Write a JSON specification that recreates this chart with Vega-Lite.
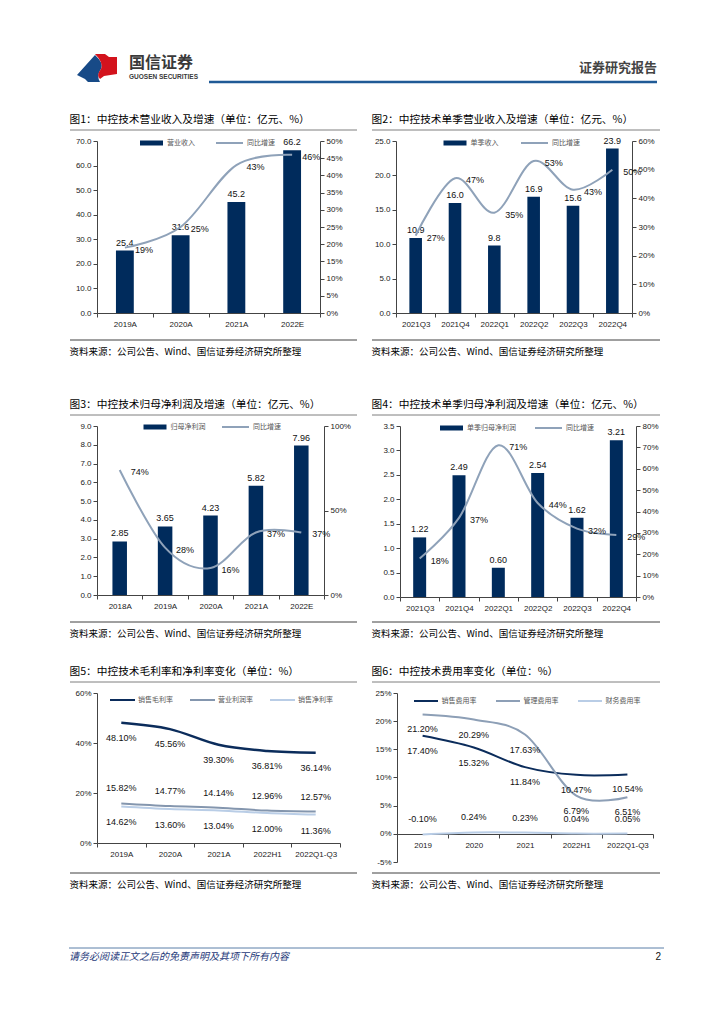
{
"$schema": "https://vega.github.io/schema/vega-lite/v6.json",
"background": "white",
"padding": {"left": 68, "top": 40, "right": 0, "bottom": 0},
"spacing": 0,
"resolve": {"scale": {"fill": "independent", "stroke": "independent"}, "legend": {"fill": "independent", "stroke": "independent"}},
"datasets": {
"one": [{}],
"none": [],
"c1": [{"p":"2019A","v":25.4,"g":0.19},{"p":"2020A","v":31.6,"g":0.25},{"p":"2021A","v":45.2,"g":0.43},{"p":"2022E","v":66.2,"g":0.46}],
"c2": [{"p":"2021Q3","v":10.9,"g":0.27},{"p":"2021Q4","v":16.0,"g":0.47},{"p":"2022Q1","v":9.8,"g":0.35},{"p":"2022Q2","v":16.9,"g":0.53},{"p":"2022Q3","v":15.6,"g":0.43},{"p":"2022Q4","v":23.9,"g":0.50}],
"c3": [{"p":"2018A","v":2.85,"g":0.74},{"p":"2019A","v":3.65,"g":0.28},{"p":"2020A","v":4.23,"g":0.16},{"p":"2021A","v":5.82,"g":0.37},{"p":"2022E","v":7.96,"g":0.37}],
"c4": [{"p":"2021Q3","v":1.22,"g":0.18},{"p":"2021Q4","v":2.49,"g":0.37},{"p":"2022Q1","v":0.60,"g":0.71},{"p":"2022Q2","v":2.54,"g":0.44},{"p":"2022Q3","v":1.62,"g":0.32},{"p":"2022Q4","v":3.21,"g":0.29}],
"c5": [{"p":"2019A","gm":0.4810,"om":0.1582,"nm":0.1462},{"p":"2020A","gm":0.4556,"om":0.1477,"nm":0.1360},{"p":"2021A","gm":0.3930,"om":0.1414,"nm":0.1304},{"p":"2022H1","gm":0.3681,"om":0.1296,"nm":0.1200},{"p":"2022Q1-Q3","gm":0.3614,"om":0.1257,"nm":0.1136}],
"c6": [{"p":"2019","se":0.1740,"me":0.2120,"fe":-0.0010},{"p":"2020","se":0.1532,"me":0.2029,"fe":0.0024},{"p":"2021","se":0.1184,"me":0.1763,"fe":0.0023},{"p":"2022H1","se":0.1047,"me":0.0679,"fe":0.0004},{"p":"2022Q1-Q3","se":0.1054,"me":0.0651,"fe":0.0005}]
},
"config": {
"view": {"stroke": null},
"font": "Liberation Sans",
"axis": {"labelFont": "Liberation Sans", "labelFontSize": 8, "labelColor": "#222", "domainColor": "#444", "tickColor": "#444", "tickSize": 4, "labelPadding": 2, "grid": false, "labelOverlap": false, "labelSeparation": -40},
"legend": {"labelFont": "Noto Sans CJK SC", "labelFontSize": 7, "labelColor": "#555", "padding": 0, "symbolOpacity": 1},
"text": {"font": "Liberation Sans", "fontSize": 9, "fill": "#111"},
"locale": {"number": {"decimal": ".", "thousands": ",", "grouping": [3], "currency": ["", ""], "minus": "-"}}
},
"vconcat": [
{
"width": 567, "height": 73,
"data": {"name": "one"},
"layer": [
{"mark": {"type": "point", "shape": "M-1,0.35L-0.1,-0.65Q0.35,-0.25 0.2,0.05Q-0.05,0.35 0.15,0.7L-0.45,0.7L-0.6,0.55Z", "filled": true, "size": 1600, "color": "#174a87", "opacity": 1, "strokeWidth": 0},
 "encoding": {"x": {"datum": 0, "type": "quantitative", "scale": {"domain": [0, 567], "nice": false}, "axis": null}, "y": {"datum": 28, "type": "quantitative", "scale": {"domain": [0, 73], "nice": false, "reverse": true}, "axis": null}}},
{"mark": {"type": "point", "shape": "M-0.1,-0.7L0.4,-0.7L0.6,-0.55L1,-0.55L1,0.3L0.35,0.4L0.15,0.55Q-0.05,0.35 0.2,0.05Q0.35,-0.25 -0.1,-0.7Z", "filled": true, "size": 1600, "color": "#d3131d", "opacity": 1, "strokeWidth": 0},
 "encoding": {"x": {"datum": 0, "type": "quantitative"}, "y": {"datum": 28, "type": "quantitative"}}},
{"mark": {"type": "text", "text": "国信证券", "font": "Noto Sans CJK SC", "fontSize": 16, "fontWeight": "bold", "fill": "#3a3a3a", "align": "left", "baseline": "middle"},
 "encoding": {"x": {"datum": 32, "type": "quantitative"}, "y": {"datum": 23, "type": "quantitative"}}},
{"mark": {"type": "text", "text": "GUOSEN SECURITIES", "font": "Liberation Sans", "fontSize": 6.5, "fontWeight": "bold", "fill": "#3a3a3a", "align": "left", "baseline": "middle"},
 "encoding": {"x": {"datum": 32, "type": "quantitative"}, "y": {"datum": 37, "type": "quantitative"}}},
{"mark": {"type": "rule", "color": "#1f5a96", "strokeWidth": 2.5},
 "encoding": {"x": {"datum": 112, "type": "quantitative"}, "x2": {"datum": 560}, "y": {"datum": 42, "type": "quantitative"}}},
{"mark": {"type": "text", "text": "证券研究报告", "font": "Noto Sans CJK SC", "fontSize": 13, "fontWeight": "bold", "fill": "#444", "align": "right", "baseline": "middle"},
 "encoding": {"x": {"datum": 560, "type": "quantitative"}, "y": {"datum": 28, "type": "quantitative"}}}
]
},
{"hconcat": [
{"width": 260, "height": 6, "title": {"text": "图1：中控技术营业收入及增速（单位：亿元、%）", "anchor": "start", "offset": 4, "fontSize": 10.7, "font": "Noto Sans CJK SC", "fontWeight": "normal", "color": "#000"},
 "data": {"name": "one"}, "mark": {"type": "rule", "color": "#7f7f7f", "strokeWidth": 1},
 "encoding": {"x": {"datum": -27, "type": "quantitative", "scale": {"domain": [0, 260], "nice": false}, "axis": null}, "x2": {"datum": 260}, "y": {"datum": 1, "type": "quantitative", "scale": {"domain": [0, 1], "nice": false}, "axis": null}}},
{"width": 261, "height": 6, "title": {"text": "图2：中控技术单季营业收入及增速（单位：亿元、%）", "anchor": "start", "offset": 4, "fontSize": 10.7, "font": "Noto Sans CJK SC", "fontWeight": "normal", "color": "#000"},
 "data": {"name": "one"}, "mark": {"type": "rule", "color": "#7f7f7f", "strokeWidth": 1},
 "encoding": {"x": {"datum": -27, "type": "quantitative", "scale": {"domain": [0, 261], "nice": false}, "axis": null}, "x2": {"datum": 261}, "y": {"datum": 1, "type": "quantitative", "scale": {"domain": [0, 1], "nice": false}, "axis": null}}}
], "spacing": 13},
{"hconcat": [
{
"width": 223, "height": 172,
"data": {"name": "c1"},
"encoding": {"x": {"field": "p", "type": "nominal", "sort": null, "title": null, "scale": {"paddingInner": 0, "paddingOuter": 0}, "axis": {"labelAngle": 0, "tickBand": "extent", "labelPadding": 3}}},
"layer": [
{"encoding": {"y": {"field": "v", "type": "quantitative", "title": null, "scale": {"domain": [0, 70], "nice": false}, "axis": {"format": ".1f", "values": [0, 10, 20, 30, 40, 50, 60, 70], "labelOverlap": false, "labelSeparation": -40, "minExtent": 27}}},
 "layer": [
{"mark": {"type": "bar", "width": {"band": 0.32}},
 "encoding": {"fill": {"datum": "营业收入", "scale": {"range": ["#002b5c"]}, "legend": {"title": null, "orient": "none", "legendX": 48.5, "legendY": -4, "direction": "horizontal", "symbolType": "M-2.3,-0.5H2.3V0.5H-2.3Z", "symbolSize": 100, "labelOffset": 9.5}}}},
{"mark": {"type": "text", "baseline": "bottom", "dy": -3},
 "encoding": {"text": {"field": "v", "type": "quantitative", "format": ".1f"}}}
]},
{"encoding": {"y": {"field": "g", "type": "quantitative", "title": null, "scale": {"domain": [0, 0.5], "nice": false}, "axis": {"orient": "right", "format": ".0%", "values": [0, 0.05, 0.1, 0.15, 0.2, 0.25, 0.3, 0.35, 0.4, 0.45, 0.5], "labelOverlap": false, "labelSeparation": -40, "minExtent": 30}}},
 "layer": [
{"mark": {"type": "line", "interpolate": "cardinal", "strokeWidth": 2},
 "encoding": {"stroke": {"datum": "同比增速", "scale": {"range": ["#8fa2b9"]}, "legend": {"title": null, "orient": "none", "legendX": 126.5, "legendY": -4, "direction": "horizontal", "symbolType": "M-2.7,0H2.7", "symbolSize": 100, "symbolStrokeWidth": 2, "labelOffset": 11.5}}}},
{"mark": {"type": "text", "dx": 19, "dy": 2},
 "encoding": {"text": {"field": "g", "type": "quantitative", "format": ".0%"}}}
]}
],
"resolve": {"scale": {"y": "independent"}}
},
{
"width": 236, "height": 172,
"data": {"name": "c2"},
"encoding": {"x": {"field": "p", "type": "nominal", "sort": null, "title": null, "scale": {"paddingInner": 0, "paddingOuter": 0}, "axis": {"labelAngle": 0, "tickBand": "extent", "labelPadding": 3}}},
"layer": [
{"encoding": {"y": {"field": "v", "type": "quantitative", "title": null, "scale": {"domain": [0, 25], "nice": false}, "axis": {"format": ".1f", "values": [0, 5, 10, 15, 20, 25], "labelOverlap": false, "labelSeparation": -40, "minExtent": 27}}},
 "layer": [
{"mark": {"type": "bar", "width": {"band": 0.32}},
 "encoding": {"fill": {"datum": "单季收入", "scale": {"range": ["#002b5c"]}, "legend": {"title": null, "orient": "none", "legendX": 53, "legendY": -4, "direction": "horizontal", "symbolType": "M-2.3,-0.5H2.3V0.5H-2.3Z", "symbolSize": 100, "labelOffset": 9.5}}}},
{"mark": {"type": "text", "baseline": "bottom", "dy": -3},
 "encoding": {"text": {"field": "v", "type": "quantitative", "format": ".1f"}}}
]},
{"encoding": {"y": {"field": "g", "type": "quantitative", "title": null, "scale": {"domain": [0, 0.6], "nice": false}, "axis": {"orient": "right", "format": ".0%", "values": [0, 0.1, 0.2, 0.3, 0.4, 0.5, 0.6], "labelOverlap": false, "labelSeparation": -40, "minExtent": 30}}},
 "layer": [
{"mark": {"type": "line", "interpolate": "cardinal", "strokeWidth": 2},
 "encoding": {"stroke": {"datum": "同比增速", "scale": {"range": ["#8fa2b9"]}, "legend": {"title": null, "orient": "none", "legendX": 132.5, "legendY": -4, "direction": "horizontal", "symbolType": "M-2.7,0H2.7", "symbolSize": 100, "symbolStrokeWidth": 2, "labelOffset": 11.5}}}},
{"mark": {"type": "text", "dx": 20, "dy": 2},
 "encoding": {"text": {"field": "g", "type": "quantitative", "format": ".0%"}}}
]}
],
"resolve": {"scale": {"y": "independent"}}
}
], "spacing": 19, "resolve": {"scale": {"fill": "independent", "stroke": "independent"}, "legend": {"fill": "independent", "stroke": "independent"}}},
{"hconcat": [
{"width": 260, "height": 12, "title": {"text": "资料来源：公司公告、Wind、国信证券经济研究所整理", "orient": "bottom", "anchor": "start", "offset": 6, "fontSize": 9.5, "font": "Noto Sans CJK SC", "fontWeight": "normal", "color": "#000"},
 "data": {"name": "one"}, "mark": {"type": "rule", "color": "#404040", "strokeWidth": 1},
 "encoding": {"x": {"datum": -27, "type": "quantitative", "scale": {"domain": [0, 260], "nice": false}, "axis": null}, "x2": {"datum": 260}, "y": {"datum": 0, "type": "quantitative", "scale": {"domain": [0, 1], "nice": false}, "axis": null}}},
{"width": 261, "height": 12, "title": {"text": "资料来源：公司公告、Wind、国信证券经济研究所整理", "orient": "bottom", "anchor": "start", "offset": 6, "fontSize": 9.5, "font": "Noto Sans CJK SC", "fontWeight": "normal", "color": "#000"},
 "data": {"name": "one"}, "mark": {"type": "rule", "color": "#404040", "strokeWidth": 1},
 "encoding": {"x": {"datum": -27, "type": "quantitative", "scale": {"domain": [0, 261], "nice": false}, "axis": null}, "x2": {"datum": 261}, "y": {"datum": 0, "type": "quantitative", "scale": {"domain": [0, 1], "nice": false}, "axis": null}}}
], "spacing": 13},
{"width": 10, "height": 42, "data": {"name": "none"}, "mark": "point"},
{"hconcat": [
{"width": 260, "height": 6, "title": {"text": "图3：中控技术归母净利润及增速（单位：亿元、%）", "anchor": "start", "offset": 4, "fontSize": 10.7, "font": "Noto Sans CJK SC", "fontWeight": "normal", "color": "#000"},
 "data": {"name": "one"}, "mark": {"type": "rule", "color": "#7f7f7f", "strokeWidth": 1},
 "encoding": {"x": {"datum": -27, "type": "quantitative", "scale": {"domain": [0, 260], "nice": false}, "axis": null}, "x2": {"datum": 260}, "y": {"datum": 1, "type": "quantitative", "scale": {"domain": [0, 1], "nice": false}, "axis": null}}},
{"width": 261, "height": 6, "title": {"text": "图4：中控技术单季归母净利润及增速（单位：亿元、%）", "anchor": "start", "offset": 4, "fontSize": 10.7, "font": "Noto Sans CJK SC", "fontWeight": "normal", "color": "#000"},
 "data": {"name": "one"}, "mark": {"type": "rule", "color": "#7f7f7f", "strokeWidth": 1},
 "encoding": {"x": {"datum": -27, "type": "quantitative", "scale": {"domain": [0, 261], "nice": false}, "axis": null}, "x2": {"datum": 261}, "y": {"datum": 1, "type": "quantitative", "scale": {"domain": [0, 1], "nice": false}, "axis": null}}}
], "spacing": 13},
{"hconcat": [
{
"width": 227, "height": 169,
"data": {"name": "c3"},
"encoding": {"x": {"field": "p", "type": "nominal", "sort": null, "title": null, "scale": {"paddingInner": 0, "paddingOuter": 0}, "axis": {"labelAngle": 0, "tickBand": "extent", "labelPadding": 3}}},
"layer": [
{"encoding": {"y": {"field": "v", "type": "quantitative", "title": null, "scale": {"domain": [0, 9], "nice": false}, "axis": {"format": ".1f", "values": [0, 1, 2, 3, 4, 5, 6, 7, 8, 9], "labelOverlap": false, "labelSeparation": -40, "minExtent": 23}}},
 "layer": [
{"mark": {"type": "bar", "width": {"band": 0.32}},
 "encoding": {"fill": {"datum": "归母净利润", "scale": {"range": ["#002b5c"]}, "legend": {"title": null, "orient": "none", "legendX": 52, "legendY": -5, "direction": "horizontal", "symbolType": "M-2.3,-0.5H2.3V0.5H-2.3Z", "symbolSize": 100, "labelOffset": 9.5}}}},
{"mark": {"type": "text", "baseline": "bottom", "dy": -3},
 "encoding": {"text": {"field": "v", "type": "quantitative", "format": ".2f"}}}
]},
{"encoding": {"y": {"field": "g", "type": "quantitative", "title": null, "scale": {"domain": [0, 1], "nice": false}, "axis": {"orient": "right", "format": ".0%", "values": [0, 0.5, 1], "labelOverlap": false, "minExtent": 30}}},
 "layer": [
{"mark": {"type": "line", "interpolate": "cardinal", "strokeWidth": 2},
 "encoding": {"stroke": {"datum": "同比增速", "scale": {"range": ["#8fa2b9"]}, "legend": {"title": null, "orient": "none", "legendX": 132.5, "legendY": -5, "direction": "horizontal", "symbolType": "M-2.7,0H2.7", "symbolSize": 100, "symbolStrokeWidth": 2, "labelOffset": 11.5}}}},
{"mark": {"type": "text", "dx": 20, "dy": 2},
 "encoding": {"text": {"field": "g", "type": "quantitative", "format": ".0%"}}}
]}
],
"resolve": {"scale": {"y": "independent"}}
},
{
"width": 236, "height": 171,
"data": {"name": "c4"},
"encoding": {"x": {"field": "p", "type": "nominal", "sort": null, "title": null, "scale": {"paddingInner": 0, "paddingOuter": 0}, "axis": {"labelAngle": 0, "tickBand": "extent", "labelPadding": 3}}},
"layer": [
{"encoding": {"y": {"field": "v", "type": "quantitative", "title": null, "scale": {"domain": [0, 3.5], "nice": false}, "axis": {"format": ".1f", "values": [0, 0.5, 1, 1.5, 2, 2.5, 3, 3.5], "labelOverlap": false, "labelSeparation": -40, "minExtent": 27}}},
 "layer": [
{"mark": {"type": "bar", "width": {"band": 0.33}},
 "encoding": {"fill": {"datum": "单季归母净利润", "scale": {"range": ["#002b5c"]}, "legend": {"title": null, "orient": "none", "legendX": 45.5, "legendY": -4, "direction": "horizontal", "symbolType": "M-2.3,-0.5H2.3V0.5H-2.3Z", "symbolSize": 100, "labelOffset": 9.5}}}},
{"mark": {"type": "text", "baseline": "bottom", "dy": -3},
 "encoding": {"text": {"field": "v", "type": "quantitative", "format": ".2f"}}}
]},
{"encoding": {"y": {"field": "g", "type": "quantitative", "title": null, "scale": {"domain": [0, 0.8], "nice": false}, "axis": {"orient": "right", "format": ".0%", "values": [0, 0.1, 0.2, 0.3, 0.4, 0.5, 0.6, 0.7, 0.8], "labelOverlap": false, "labelSeparation": -40, "minExtent": 30}}},
 "layer": [
{"mark": {"type": "line", "interpolate": "cardinal", "strokeWidth": 2},
 "encoding": {"stroke": {"datum": "同比增速", "scale": {"range": ["#8fa2b9"]}, "legend": {"title": null, "orient": "none", "legendX": 142.5, "legendY": -4, "direction": "horizontal", "symbolType": "M-2.7,0H2.7", "symbolSize": 100, "symbolStrokeWidth": 2, "labelOffset": 11.5}}}},
{"mark": {"type": "text", "dx": 20, "dy": 2},
 "encoding": {"text": {"field": "g", "type": "quantitative", "format": ".0%"}}}
]}
],
"resolve": {"scale": {"y": "independent"}}
}
], "spacing": 19, "resolve": {"scale": {"fill": "independent", "stroke": "independent"}, "legend": {"fill": "independent", "stroke": "independent"}}},
{"hconcat": [
{"width": 260, "height": 10, "title": {"text": "资料来源：公司公告、Wind、国信证券经济研究所整理", "orient": "bottom", "anchor": "start", "offset": 6, "fontSize": 9.5, "font": "Noto Sans CJK SC", "fontWeight": "normal", "color": "#000"},
 "data": {"name": "one"}, "mark": {"type": "rule", "color": "#404040", "strokeWidth": 1},
 "encoding": {"x": {"datum": -27, "type": "quantitative", "scale": {"domain": [0, 260], "nice": false}, "axis": null}, "x2": {"datum": 260}, "y": {"datum": 0, "type": "quantitative", "scale": {"domain": [0, 1], "nice": false}, "axis": null}}},
{"width": 261, "height": 10, "title": {"text": "资料来源：公司公告、Wind、国信证券经济研究所整理", "orient": "bottom", "anchor": "start", "offset": 6, "fontSize": 9.5, "font": "Noto Sans CJK SC", "fontWeight": "normal", "color": "#000"},
 "data": {"name": "one"}, "mark": {"type": "rule", "color": "#404040", "strokeWidth": 1},
 "encoding": {"x": {"datum": -27, "type": "quantitative", "scale": {"domain": [0, 261], "nice": false}, "axis": null}, "x2": {"datum": 261}, "y": {"datum": 0, "type": "quantitative", "scale": {"domain": [0, 1], "nice": false}, "axis": null}}}
], "spacing": 13},
{"width": 10, "height": 27, "data": {"name": "none"}, "mark": "point"},
{"hconcat": [
{"width": 260, "height": 7, "title": {"text": "图5：中控技术毛利率和净利率变化（单位：%）", "anchor": "start", "offset": 4, "fontSize": 10.7, "font": "Noto Sans CJK SC", "fontWeight": "normal", "color": "#000"},
 "data": {"name": "one"}, "mark": {"type": "rule", "color": "#7f7f7f", "strokeWidth": 1},
 "encoding": {"x": {"datum": -27, "type": "quantitative", "scale": {"domain": [0, 260], "nice": false}, "axis": null}, "x2": {"datum": 260}, "y": {"datum": 1, "type": "quantitative", "scale": {"domain": [0, 1], "nice": false}, "axis": null}}},
{"width": 261, "height": 7, "title": {"text": "图6：中控技术费用率变化（单位：%）", "anchor": "start", "offset": 4, "fontSize": 10.7, "font": "Noto Sans CJK SC", "fontWeight": "normal", "color": "#000"},
 "data": {"name": "one"}, "mark": {"type": "rule", "color": "#7f7f7f", "strokeWidth": 1},
 "encoding": {"x": {"datum": -27, "type": "quantitative", "scale": {"domain": [0, 261], "nice": false}, "axis": null}, "x2": {"datum": 261}, "y": {"datum": 1, "type": "quantitative", "scale": {"domain": [0, 1], "nice": false}, "axis": null}}}
], "spacing": 13},
{"hconcat": [
{
"width": 243, "height": 150,
"data": {"name": "c5"},
"encoding": {"x": {"field": "p", "type": "nominal", "sort": null, "title": null, "scale": {"type": "band", "paddingInner": 0, "paddingOuter": 0}, "axis": {"labelAngle": 0, "tickBand": "extent", "labelPadding": 3}}},
"layer": [
{"mark": {"type": "line", "interpolate": "cardinal", "strokeWidth": 2.5},
 "encoding": {"y": {"field": "gm", "type": "quantitative", "title": null, "scale": {"domain": [0, 0.6], "nice": false}, "axis": {"format": ".0%", "values": [0, 0.2, 0.4, 0.6], "labelOverlap": false, "labelSeparation": -40, "minExtent": 27}},
  "stroke": {"datum": "销售毛利率", "scale": {"domain": ["销售毛利率", "营业利润率", "销售净利率"], "range": ["#0b2c5b", "#8496ae", "#b9cde6"]}, "legend": {"title": null, "orient": "none", "legendX": 19.5, "legendY": 1, "direction": "horizontal", "symbolType": "M-2.5,0H2.5", "symbolSize": 100, "symbolStrokeWidth": 2, "labelOffset": 9.5, "columnPadding": 12}}}},
{"mark": {"type": "line", "interpolate": "cardinal", "strokeWidth": 2},
 "encoding": {"y": {"field": "om", "type": "quantitative", "title": null, "axis": {"format": ".0%", "values": [0, 0.2, 0.4, 0.6], "labelOverlap": false, "labelSeparation": -40, "minExtent": 27}}, "stroke": {"datum": "营业利润率"}}},
{"mark": {"type": "line", "interpolate": "cardinal", "strokeWidth": 2},
 "encoding": {"y": {"field": "nm", "type": "quantitative", "title": null, "axis": {"format": ".0%", "values": [0, 0.2, 0.4, 0.6], "labelOverlap": false, "labelSeparation": -40, "minExtent": 27}}, "stroke": {"datum": "销售净利率"}}},
{"mark": {"type": "text", "dy": 15},
 "encoding": {"y": {"field": "gm", "type": "quantitative", "title": null, "axis": {"format": ".0%", "values": [0, 0.2, 0.4, 0.6], "labelOverlap": false, "labelSeparation": -40, "minExtent": 27}}, "text": {"field": "gm", "type": "quantitative", "format": ".2%"}}},
{"mark": {"type": "text", "dy": -15},
 "encoding": {"y": {"field": "om", "type": "quantitative", "title": null, "axis": {"format": ".0%", "values": [0, 0.2, 0.4, 0.6], "labelOverlap": false, "labelSeparation": -40, "minExtent": 27}}, "text": {"field": "om", "type": "quantitative", "format": ".2%"}}},
{"mark": {"type": "text", "dy": 16},
 "encoding": {"y": {"field": "nm", "type": "quantitative", "title": null, "axis": {"format": ".0%", "values": [0, 0.2, 0.4, 0.6], "labelOverlap": false, "labelSeparation": -40, "minExtent": 27}}, "text": {"field": "nm", "type": "quantitative", "format": ".2%"}}}
]
},
{
"width": 256, "height": 169,
"data": {"name": "c6"},
"encoding": {"x": {"field": "p", "type": "nominal", "sort": null, "title": null, "scale": {"type": "band", "paddingInner": 0, "paddingOuter": 0}, "axis": {"labelAngle": 0, "tickBand": "extent", "labelPadding": 3, "offset": -28}}},
"layer": [
{"mark": {"type": "line", "interpolate": "cardinal", "strokeWidth": 2},
 "encoding": {"y": {"field": "se", "type": "quantitative", "title": null, "scale": {"domain": [-0.05, 0.25], "nice": false}, "axis": {"format": ".0%", "values": [-0.05, 0, 0.05, 0.1, 0.15, 0.2, 0.25], "labelOverlap": false, "labelSeparation": -40, "minExtent": 27}},
  "stroke": {"datum": "销售费用率", "scale": {"domain": ["销售费用率", "管理费用率", "财务费用率"], "range": ["#0b2c5b", "#8d9fb6", "#b9cde6"]}, "legend": {"title": null, "orient": "none", "legendX": 23, "legendY": 2, "direction": "horizontal", "symbolType": "M-2.4,0H2.4", "symbolSize": 100, "symbolStrokeWidth": 2, "labelOffset": 9.5, "columnPadding": 15}}}},
{"mark": {"type": "line", "interpolate": "cardinal", "strokeWidth": 2},
 "encoding": {"y": {"field": "me", "type": "quantitative", "title": null, "axis": {"format": ".0%", "values": [-0.05, 0, 0.05, 0.1, 0.15, 0.2, 0.25], "labelOverlap": false, "labelSeparation": -40, "minExtent": 27}}, "stroke": {"datum": "管理费用率"}}},
{"mark": {"type": "line", "interpolate": "cardinal", "strokeWidth": 2},
 "encoding": {"y": {"field": "fe", "type": "quantitative", "title": null, "axis": {"format": ".0%", "values": [-0.05, 0, 0.05, 0.1, 0.15, 0.2, 0.25], "labelOverlap": false, "labelSeparation": -40, "minExtent": 27}}, "stroke": {"datum": "财务费用率"}}},
{"mark": {"type": "text", "dy": 15},
 "encoding": {"y": {"field": "se", "type": "quantitative", "title": null, "axis": {"format": ".0%", "values": [-0.05, 0, 0.05, 0.1, 0.15, 0.2, 0.25], "labelOverlap": false, "labelSeparation": -40, "minExtent": 27}}, "text": {"field": "se", "type": "quantitative", "format": ".2%"}}},
{"mark": {"type": "text", "dy": 15},
 "encoding": {"y": {"field": "me", "type": "quantitative", "title": null, "axis": {"format": ".0%", "values": [-0.05, 0, 0.05, 0.1, 0.15, 0.2, 0.25], "labelOverlap": false, "labelSeparation": -40, "minExtent": 27}}, "text": {"field": "me", "type": "quantitative", "format": ".2%"}}},
{"mark": {"type": "text", "dy": -15},
 "encoding": {"y": {"field": "fe", "type": "quantitative", "title": null, "axis": {"format": ".0%", "values": [-0.05, 0, 0.05, 0.1, 0.15, 0.2, 0.25], "labelOverlap": false, "labelSeparation": -40, "minExtent": 27}}, "text": {"field": "fe", "type": "quantitative", "format": ".2%"}}}
]
}
], "spacing": 29, "resolve": {"scale": {"fill": "independent", "stroke": "independent"}, "legend": {"fill": "independent", "stroke": "independent"}}},
{"hconcat": [
{"width": 260, "height": 7, "title": {"text": "资料来源：公司公告、Wind、国信证券经济研究所整理", "orient": "bottom", "anchor": "start", "offset": 6, "fontSize": 9.5, "font": "Noto Sans CJK SC", "fontWeight": "normal", "color": "#000"},
 "data": {"name": "one"}, "mark": {"type": "rule", "color": "#404040", "strokeWidth": 1},
 "encoding": {"x": {"datum": -27, "type": "quantitative", "scale": {"domain": [0, 260], "nice": false}, "axis": null}, "x2": {"datum": 260}, "y": {"datum": 0, "type": "quantitative", "scale": {"domain": [0, 1], "nice": false}, "axis": null}}},
{"width": 261, "height": 7, "title": {"text": "资料来源：公司公告、Wind、国信证券经济研究所整理", "orient": "bottom", "anchor": "start", "offset": 6, "fontSize": 9.5, "font": "Noto Sans CJK SC", "fontWeight": "normal", "color": "#000"},
 "data": {"name": "one"}, "mark": {"type": "rule", "color": "#404040", "strokeWidth": 1},
 "encoding": {"x": {"datum": -27, "type": "quantitative", "scale": {"domain": [0, 261], "nice": false}, "axis": null}, "x2": {"datum": 261}, "y": {"datum": 0, "type": "quantitative", "scale": {"domain": [0, 1], "nice": false}, "axis": null}}}
], "spacing": 13},
{"width": 10, "height": 58, "data": {"name": "none"}, "mark": "point"},
{
"width": 567, "height": 20,
"data": {"name": "one"},
"layer": [
{"mark": {"type": "rule", "color": "#5b7fa8", "strokeWidth": 1},
 "encoding": {"x": {"datum": -28, "type": "quantitative", "scale": {"domain": [0, 567], "nice": false}, "axis": null}, "x2": {"datum": 567}, "y": {"datum": 0, "type": "quantitative", "scale": {"domain": [0, 20], "nice": false, "reverse": true}, "axis": null}}},
{"mark": {"type": "text", "text": "请务必阅读正文之后的免责声明及其项下所有内容", "font": "Noto Sans CJK SC", "fontSize": 10, "fontStyle": "italic", "fill": "#1f3a7a", "align": "left", "baseline": "middle"},
 "encoding": {"x": {"datum": -28, "type": "quantitative"}, "y": {"datum": 9, "type": "quantitative"}}},
{"mark": {"type": "text", "text": "2", "font": "Liberation Sans", "fontSize": 10, "fill": "#111", "align": "right", "baseline": "middle"},
 "encoding": {"x": {"datum": 564, "type": "quantitative"}, "y": {"datum": 9, "type": "quantitative"}}}
]
}
]
}
